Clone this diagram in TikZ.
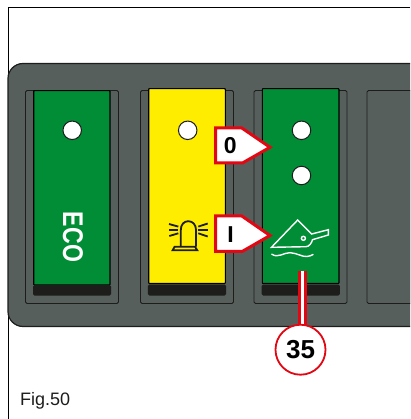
\documentclass[tikz,border=0pt]{standalone}
\usepackage{fontspec}
\setmainfont{Liberation Sans}
\definecolor{panelgrey}{HTML}{565F5C}
\definecolor{inkblack}{HTML}{1D1D1B}
\definecolor{rockgreen}{HTML}{008D36}
\definecolor{rockyellow}{HTML}{FFED00}
\definecolor{callred}{HTML}{E30613}
\pgfdeclarelayer{toplayer}
\pgfsetlayers{main,toplayer}
\tikzset{
  slotbox/.style={draw=inkblack,line width=.9pt,rounded corners=1.5pt,fill=panelgrey},
  rockerbox/.style={draw=black,line width=1.1pt,rounded corners=.6pt},
  barbox/.style={fill=inkblack,rounded corners=1.5pt},
  lamp/.style={circle,draw=inkblack,fill=white,line width=1pt,minimum size=18.5pt,inner sep=0pt},
  callout/.style={draw=callred,fill=white,line width=3pt,miter limit=10},
  calltext/.style={font=\bfseries\fontsize{23}{23}\selectfont,text=black,inner sep=0pt},
  reftext/.style={font=\bfseries\fontsize{26}{26}\selectfont,text=black,inner sep=0pt},
  iconline/.style={draw=inkblack,line width=1.8pt},
  fishline/.style={draw=white,line width=1.4pt,line join=miter},
}
\begin{document}
\begin{tikzpicture}[x=1pt,y=-1pt]
\useasboundingbox (0,0) rectangle (410,419);
\clip (0,0) rectangle (410,419);
\fill[white] (0,0) rectangle (410,419);
% frame
\draw[black,line width=1pt] (8.5,419) -- (8.5,7.5) -- (410,7.5);
% panel
\draw[draw=inkblack,fill=panelgrey,line width=1.2pt,rounded corners=15pt]
  (430,63.5) -- (8,63.5) -- (8,326.5) -- (430,326.5);
% slots
\draw[slotbox] (25.5,90.5) rectangle (118.5,303.5);
\draw[slotbox] (140.5,90.5) rectangle (233.5,303.5);
\draw[slotbox] (254,90.5) rectangle (347,303.5);
\draw[slotbox] (367,90.5) rectangle (430,303.5);
% rockers
\draw[rockerbox,fill=rockgreen] (33.7,90.7) rectangle (110,285);
\draw[rockerbox,fill=rockyellow] (148.7,88.7) rectangle (225.3,283.5);
\draw[rockerbox,fill=rockgreen] (262.3,88.7) rectangle (339,283.5);
\fill[barbox] (33,285) rectangle (111,295.5);
\fill[barbox] (147.8,284.5) rectangle (226,295.5);
\fill[barbox] (261.5,284.5) rectangle (339.8,295.5);
% lamps
\node[lamp] (l1) at (72.2,130.3) {};
\node[lamp] (l2) at (187.7,130.3) {};
\node[lamp] (l3) at (301.5,130.3) {};
\node[lamp] (l4) at (301.5,175.5) {};
% ECO
\node[rotate=-90,text=white,inner sep=0pt,font=\bfseries\fontsize{28.5}{28.5}\selectfont] (eco) at (73,237) {\scalebox{.81}[1]{ECO}};
% beacon
\draw[iconline,line join=miter] (172.6,250.3) -- (174.6,246.7) -- (195,246.7) -- (197.3,250.3) -- cycle;
\draw[iconline] (180.8,246.7) -- (180.8,230) .. controls (180.8,224.5) and (184,221.2) .. (188.3,221.2)
  .. controls (192.6,221.2) and (196,224.5) .. (196,230) -- (196,246.7);
\draw[iconline] (169,224) -- (178.3,226.6);
\draw[iconline] (169,230) -- (178.3,230);
\draw[iconline] (169.3,236) -- (178.3,233.3);
\draw[iconline] (198.3,226.6) -- (207.7,223.5);
\draw[iconline] (198.3,230) -- (207.7,230);
\draw[iconline] (198.3,233.3) -- (207.7,236.5);
% float icon
\draw[fishline] (297.7,220) -- (311.7,234) -- (328.3,229.7) -- (328.3,235) -- (312.5,239.7)
  .. controls (311.5,243) and (309.5,246.5) .. (306,246.7) -- (271.5,247.3) -- cycle;
\draw[fishline] (303.4,238.3) circle (2);
\draw[fishline,line cap=round] (271.8,254.2) .. controls (278,258.5) and (284,252.5) .. (290,252.7)
  .. controls (297,253) and (302,257) .. (307,256.5) .. controls (309.5,256.2) and (311.5,255.5) .. (313,254.5);
% callouts
\draw[callout] (215.5,127.8) -- (241.5,127.8) -- (270,147.3) -- (242.5,163) -- (215.5,163) -- cycle;
\node[calltext] (t0) at (230.3,146) {0};
\draw[callout] (215.5,215.8) -- (241.5,215.8) -- (270,235.5) -- (242.5,251.3) -- (215.5,251.3) -- cycle;
\node[calltext] (tI) at (230.5,234.5) {I};
% reference and leader
\begin{pgfonlayer}{toplayer}
\node[circle,draw=callred,fill=white,line width=1.8pt,minimum size=50pt,inner sep=0pt,reftext] (c35) at (300.5,349.7) {35};
\end{pgfonlayer}
\coordinate (leadtop) at (302.5,270.5);
\draw[callred,line width=8.6pt] (leadtop) -- (leadtop |- c35);
\draw[white,line width=3.6pt] (leadtop) -- (leadtop |- c35);
% caption
\node[anchor=base west,inner sep=0pt,font=\fontsize{18}{18}\selectfont,text=inkblack] (cap) at (20,405.7) {Fig.50};
\end{tikzpicture}
\end{document}
